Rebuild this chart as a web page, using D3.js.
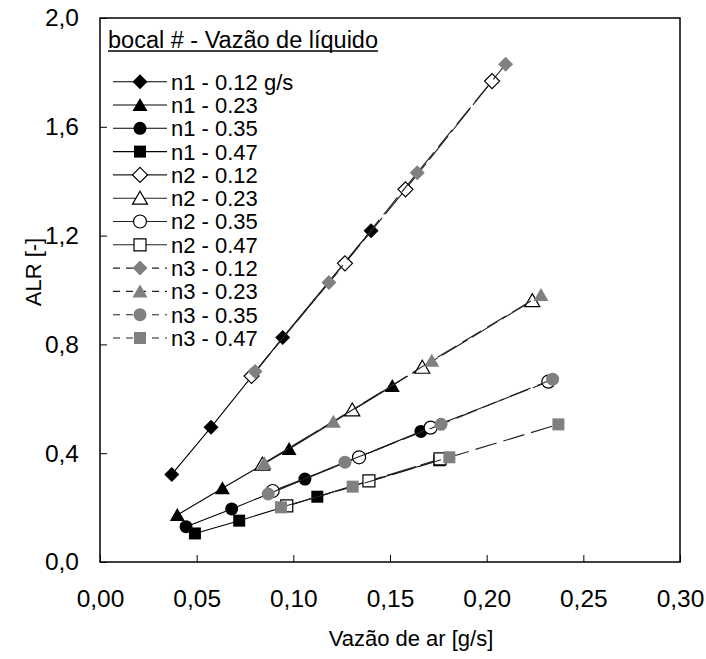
<!DOCTYPE html>
<html>
<head>
<meta charset="utf-8">
<script src="https://cdn.jsdelivr.net/npm/d3@7"></script>
<style>
  html, body { margin: 0; padding: 0; background: #fff; }
  svg { display: block; }
  text { font-family: "Liberation Sans", Arial, sans-serif; fill: #000; }
</style>
</head>
<body>
<svg id="chart" width="706" height="659"></svg>
<script>
// ---- Data ----
const xTicks = [0, 0.05, 0.10, 0.15, 0.20, 0.25, 0.30];
const yTicks = [0, 0.4, 0.8, 1.2, 1.6, 2.0];
const legendTitle = "bocal # - Vazão de líquido";
const xTitle = "Vazão de ar [g/s]";
const yTitle = "ALR [-]";

const seriesNames = ["n1 - 0.12 g/s", "n1 - 0.23", "n1 - 0.35", "n1 - 0.47",
                     "n2 - 0.12", "n2 - 0.23", "n2 - 0.35", "n2 - 0.47",
                     "n3 - 0.12", "n3 - 0.23", "n3 - 0.35", "n3 - 0.47"];

const n1_012_x = [0.0371, 0.0574, 0.0945, 0.1402];
const n1_012_y = [0.322, 0.495, 0.825, 1.218];
const n1_023_x = [0.0400, 0.0633, 0.0978, 0.1512];
const n1_023_y = [0.173, 0.271, 0.415, 0.647];
const n1_035_x = [0.0445, 0.0681, 0.1060, 0.1660];
const n1_035_y = [0.130, 0.195, 0.305, 0.480];
const n1_047_x = [0.0491, 0.0720, 0.1124, 0.1755];
const n1_047_y = [0.105, 0.152, 0.240, 0.374];

const n2_012_x = [0.0784, 0.1267, 0.1580, 0.2028];
const n2_012_y = [0.684, 1.098, 1.370, 1.768];
const n2_023_x = [0.0840, 0.1305, 0.1667, 0.2236];
const n2_023_y = [0.360, 0.559, 0.716, 0.961];
const n2_035_x = [0.0893, 0.1340, 0.1710, 0.2319];
const n2_035_y = [0.261, 0.385, 0.494, 0.663];
const n2_047_x = [0.0966, 0.1391, 0.1759];
const n2_047_y = [0.206, 0.298, 0.379];

const n3_012_x = [0.0802, 0.1184, 0.1641, 0.2098];
const n3_012_y = [0.700, 1.028, 1.431, 1.830];
const n3_023_x = [0.0850, 0.1207, 0.1716, 0.2281];
const n3_023_y = [0.363, 0.516, 0.740, 0.982];
const n3_035_x = [0.0870, 0.1267, 0.1764, 0.2341];
const n3_035_y = [0.250, 0.367, 0.506, 0.672];
const n3_047_x = [0.0936, 0.1307, 0.1807, 0.2371];
const n3_047_y = [0.201, 0.277, 0.385, 0.506];

const seriesX = [n1_012_x, n1_023_x, n1_035_x, n1_047_x, n2_012_x, n2_023_x, n2_035_x, n2_047_x, n3_012_x, n3_023_x, n3_035_x, n3_047_x];
const seriesY = [n1_012_y, n1_023_y, n1_035_y, n1_047_y, n2_012_y, n2_023_y, n2_035_y, n2_047_y, n3_012_y, n3_023_y, n3_035_y, n3_047_y];

// ---- Styles ----
const shapes = ["diamond", "triangle", "circle", "square"];
const groupStyle = [
  { fill: "#000", stroke: "none", line: "#000", dash: null, legendDash: null },
  { fill: "#fff", stroke: "#000", line: "#222", dash: "30,5", legendDash: null },
  { fill: "#808080", stroke: "none", line: "#222", dash: "22,7", legendDash: "7,6" }
];

const margin = { left: 100, top: 18, right: 26, bottom: 97 };
const W = 706, H = 659;
const svg = d3.select("#chart");

const x = d3.scaleLinear().domain([0, 0.30]).range([margin.left, W - margin.right]);
const y = d3.scaleLinear().domain([0, 2.0]).range([H - margin.bottom, margin.top]);

const fmtX = v => d3.format(".2f")(v).replace(".", ",");
const fmtY = v => d3.format(".1f")(v).replace(".", ",");

// Axes
const xAxis = d3.axisBottom(x).tickValues(xTicks).tickFormat(fmtX)
  .tickSizeInner(-7).tickSizeOuter(0).tickPadding(28);
const yAxis = d3.axisLeft(y).tickValues(yTicks).tickFormat(fmtY)
  .tickSizeInner(-7).tickSizeOuter(0).tickPadding(21);

const gx = svg.append("g").attr("transform", `translate(0,${y(0)})`).call(xAxis);
const gy = svg.append("g").attr("transform", `translate(${x(0)},0)`).call(yAxis);
[gx, gy].forEach(g => {
  g.select(".domain").remove();
  g.selectAll(".tick line").attr("stroke", "#000").attr("stroke-width", 1);
  g.selectAll(".tick text").attr("font-size", 24.5).attr("fill", "#000")
    .style("font-family", '"Liberation Sans", Arial, sans-serif');
});

// Frame
svg.append("rect")
  .attr("x", x(0)).attr("y", y(2.0))
  .attr("width", x(0.30) - x(0)).attr("height", y(0) - y(2.0))
  .attr("fill", "none").attr("stroke", "#000").attr("stroke-width", 1.5);

// Axis titles
svg.append("text").attr("x", 411).attr("y", 646)
  .attr("text-anchor", "middle").attr("font-size", 22).text(xTitle);
svg.append("text")
  .attr("transform", `translate(41,272) rotate(-90)`)
  .attr("text-anchor", "middle").attr("font-size", 22).text(yTitle);

// Marker drawing
function markerPath(shape) {
  switch (shape) {
    case "diamond": return "M0,-7.5L7.5,0L0,7.5L-7.5,0Z";
    case "triangle": return "M0,-7L7.5,6L-7.5,6Z";
    case "circle": return d3.symbol(d3.symbolCircle, Math.PI * 6.5 * 6.5)();
    case "square": return "M-6,-6L6,-6L6,6L-6,6Z";
  }
}

const line = d3.line().x(d => x(d[0])).y(d => y(d[1]));

seriesNames.forEach((name, i) => {
  const grp = Math.floor(i / 4);
  const st = groupStyle[grp];
  const pts = seriesX[i].map((v, k) => [v, seriesY[i][k]]);
  const g = svg.append("g");
  g.append("path").attr("d", line(pts)).attr("fill", "none")
    .attr("stroke", st.line).attr("stroke-width", 1.1)
    .attr("stroke-dasharray", st.dash);
  g.selectAll("path.m").data(pts).join("path").attr("class", "m")
    .attr("transform", d => `translate(${x(d[0])},${y(d[1])})`)
    .attr("d", markerPath(shapes[i % 4]))
    .attr("fill", st.fill).attr("stroke", st.stroke).attr("stroke-width", 1.2);
});

// Legend
const lg = svg.append("g");
const titleText = lg.append("text").attr("x", 108).attr("y", 48)
  .attr("font-size", 23.5).text(legendTitle);
const tw = titleText.node().getComputedTextLength();
lg.append("line").attr("x1", 108).attr("x2", 108 + tw).attr("y1", 51).attr("y2", 51)
  .attr("stroke", "#000").attr("stroke-width", 1.5);

seriesNames.forEach((name, i) => {
  const grp = Math.floor(i / 4);
  const st = groupStyle[grp];
  const cy = 81.7 + i * 23.3;
  lg.append("line").attr("x1", 113).attr("x2", 167).attr("y1", cy).attr("y2", cy)
    .attr("stroke", st.line).attr("stroke-width", 1.1)
    .attr("stroke-dasharray", st.legendDash);
  lg.append("path").attr("transform", `translate(140,${cy})`)
    .attr("d", markerPath(shapes[i % 4]))
    .attr("fill", st.fill).attr("stroke", st.stroke).attr("stroke-width", 1.2);
  lg.append("text").attr("x", 171).attr("y", cy).attr("dy", "0.36em")
    .attr("font-size", 22).text(name);
});
</script>
</body>
</html>
